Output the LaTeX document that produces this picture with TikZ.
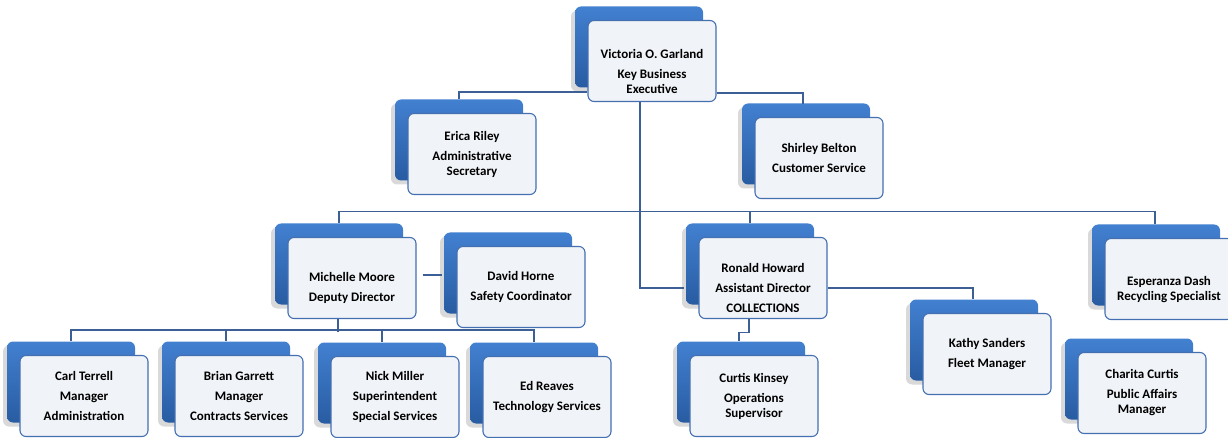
\documentclass[tikz,border=0pt]{standalone}
\usepackage{fontspec}
\setmainfont{Carlito}
\usepackage{tikz}
\usetikzlibrary{positioning}
\usetikzlibrary{shadows}
\usepackage{xcolor}

\definecolor{boxtop}{RGB}{66,128,208}
\definecolor{boxbot}{RGB}{40,92,162}
\definecolor{boxline}{RGB}{68,112,178}
\definecolor{boxfill}{RGB}{240,243,247}
\definecolor{linkcol}{RGB}{60,96,150}

\tikzset{
    person/.style={draw=boxline, line width=1.1pt, rounded corners=6pt, fill=boxfill,
        minimum width=128pt, minimum height=81pt, inner sep=1pt, align=center,
        font=\fontsize{13}{15}\selectfont\bfseries,
        general shadow={shadow xshift=-17pt, shadow yshift=10pt, draw=none, fill=black, opacity=.15},
        general shadow={shadow xshift=-13pt, shadow yshift=14pt, draw=none,
            top color=boxtop, bottom color=boxbot}},
    link/.style={draw=linkcol, line width=1.1pt}
}

\begin{document}
\begin{tikzpicture}[x=1pt,y=-1pt]
    \useasboundingbox (0,0) rectangle (1228,438);

    % top
    \node[person] (vg) at (652,61)  {\mbox{}\\[15pt]Victoria O. Garland\\[5pt]Key Business\\Executive};
    \node[person] (er) at (472,154) {Erica Riley\\[5pt]Administrative\\Secretary};
    \node[person] (sb) at (819,158) {Shirley Belton\\[5pt]Customer Service};

    % middle row
    \node[person] (mm) at (352,278) {\mbox{}\\[15pt]Michelle Moore\\[5pt]Deputy Director};
    \node[person] (dh) at (521,287) {David Horne\\[5pt]Safety Coordinator};
    \node[person] (rh) at (763,278) {\mbox{}\\[15pt]Ronald Howard\\[5pt]Assistant Director\\[5pt]COLLECTIONS};
    \node[person] (ed) at (1169,279) {\mbox{}\\[15pt]Esperanza Dash\\Recycling Specialist};
    \node[person] (ks) at (987,354) {Kathy Sanders\\[5pt]Fleet Manager};

    % bottom row
    \node[person] (ct) at (84,396)  {Carl Terrell\\[5pt]Manager\\[5pt]Administration};
    \node[person] (bg) at (239,396) {Brian Garrett\\[5pt]Manager\\[5pt]Contracts Services};
    \node[person] (nm) at (395,397) {Nick Miller\\[5pt]Superintendent\\[5pt]Special Services};
    \node[person] (re) at (547,397) {Ed Reaves\\[5pt]Technology Services};
    \node[person] (ck) at (754,396) {Curtis Kinsey\\[5pt]Operations\\Supervisor};
    \node[person] (cc) at (1142,393) {Charita Curtis\\[5pt]Public Affairs\\Manager};

    % connectors
    \draw[link] ([yshift=10pt]vg.south west) -| ([shift={(-13,-14)}]er.north);
    \draw[link] ([yshift=9pt]vg.south east) -| ([shift={(-16,-13)}]sb.north);
    \draw[link] ([xshift=-12pt]vg.south) |- ([shift={(-14,10)}]rh.west);
    \draw[link] ([shift={(-13,-14)}]mm.north) -- ++(0,-11) -| ([shift={(-14,-14)}]ed.north);
    \draw[link] ([shift={(-13,-14)}]rh.north) -- ++(0,-11);
    \draw[link] ([shift={(6,-3)}]mm.east) -- ([shift={(-14,-12)}]dh.west);

    \draw[link] ([xshift=-14pt]mm.south) -- ++(0,13);
    \draw[link] ([shift={(-13,-14)}]ct.north) -- ++(0,-11) -| ([shift={(-13,-14)}]re.north);
    \foreach \n in {bg,nm}
        \draw[link] ([shift={(-13,-14)}]\n.north) -- ++(0,-11);

    \draw[link] ([yshift=-10pt]rh.east) -| ([shift={(-14,-14)}]ks.north);
    \draw[link] ([xshift=-14pt]rh.south) -- ++(0,13) -| ([shift={(-15,-14)}]ck.north);

\end{tikzpicture}
\end{document}
